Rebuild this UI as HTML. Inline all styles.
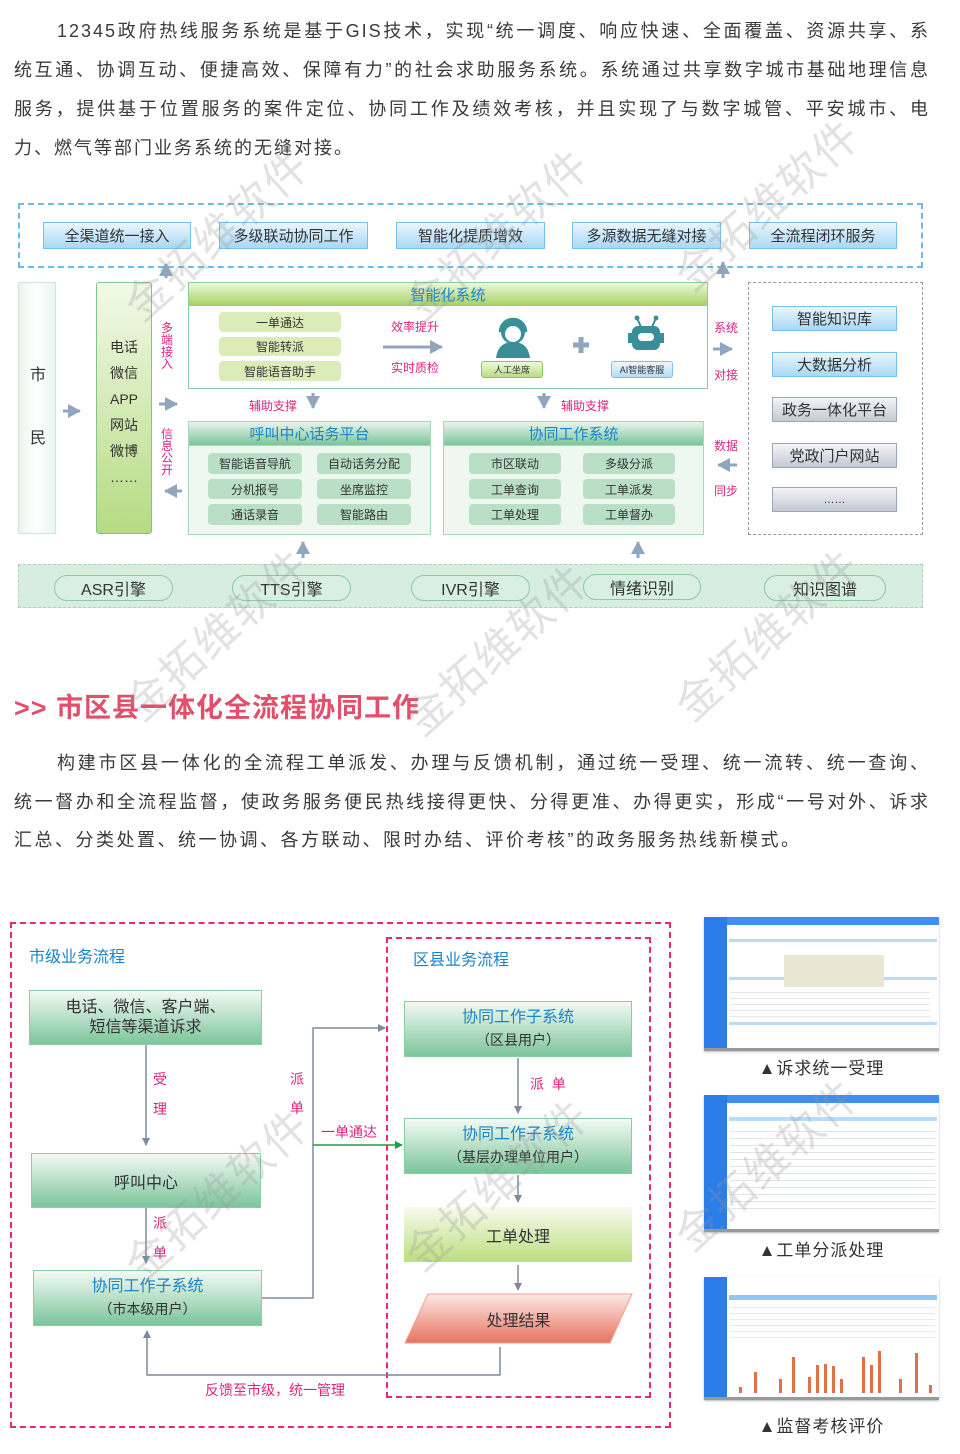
<!DOCTYPE html>
<html><head><meta charset="utf-8"><style>
*{margin:0;padding:0;box-sizing:border-box}
body{width:960px;height:1454px;position:relative;background:#fff;font-family:"Liberation Sans","Noto Sans CJK SC",sans-serif;color:#333;overflow:hidden}
.a{position:absolute}
.ln{position:absolute;left:14px;width:916px;font-size:18px;letter-spacing:2px;text-align:justify;text-align-last:justify;white-space:nowrap;line-height:24px;color:#3a3a3a}
.c{display:flex;align-items:center;justify-content:center;text-align:center}
.tb{background:linear-gradient(#eaf6fd,#a9d8f5);border:1.5px solid #77c0ea;font-size:15px;color:#333}
.gb{background:linear-gradient(#f3f4f6,#c4cad3);border:1.5px solid #9aa7b6;font-size:15px;color:#333}
.pl{background:#dcecb8;border-radius:4px;font-size:12px;color:#333}
.pg{background:#b9dfc6;border-radius:4px;font-size:12px;color:#333}
.mg{color:#e0237f;font-size:12px}
.vs{line-height:12px;text-align:center;width:14px}
.fb{background:linear-gradient(#f3faf4,#7cc59b);border:1.5px solid #8ccca3;font-size:16px;color:#333}
.bl{color:#1a85c8}
.wm{position:absolute;font-size:44px;color:rgba(150,150,150,.28);transform:rotate(-42deg);white-space:nowrap;letter-spacing:2px}
</style></head><body>

<div class="ln" style="top:19px;left:57px;width:873px">12345政府热线服务系统是基于GIS技术，实现“统一调度、响应快速、全面覆盖、资源共享、系</div>
<div class="ln" style="top:58px">统互通、协调互动、便捷高效、保障有力”的社会求助服务系统。系统通过共享数字城市基础地理信息</div>
<div class="ln" style="top:97px">服务，提供基于位置服务的案件定位、协同工作及绩效考核，并且实现了与数字城管、平安城市、电</div>
<div class="ln" style="top:136px;text-align-last:left;width:auto">力、燃气等部门业务系统的无缝对接。</div>

<div class="a" style="left:18px;top:203px;width:905px;height:65px;border:2px dashed #6bbbe8"></div>
<div class="a c tb" style="left:43px;top:222px;width:148px;height:27px">全渠道统一接入</div>
<div class="a c tb" style="left:219px;top:222px;width:149px;height:27px">多级联动协同工作</div>
<div class="a c tb" style="left:396px;top:222px;width:149px;height:27px">智能化提质增效</div>
<div class="a c tb" style="left:572px;top:222px;width:149px;height:27px">多源数据无缝对接</div>
<div class="a c tb" style="left:749px;top:222px;width:148px;height:27px">全流程闭环服务</div>

<div class="a" style="left:18px;top:282px;width:38px;height:252px;background:linear-gradient(90deg,#e9f5ee,#fff 50%,#e9f5ee);border:1px solid #cfe6d7"></div>
<div class="a" style="left:30px;top:361px;font-size:16px">市</div>
<div class="a" style="left:30px;top:424px;font-size:16px">民</div>
<div class="a" style="left:96px;top:282px;width:56px;height:252px;background:linear-gradient(#f2f9e8,#b6db82);border:1.5px solid #82c48d;border-radius:3px"></div>
<div class="a" style="left:96px;top:334px;width:56px;text-align:center;font-size:14px;line-height:26px">电话<br>微信<br>APP<br>网站<br>微博<br>……</div>
<div class="a mg vs" style="left:160px;top:322px">多<br>端<br>接<br>入</div>
<div class="a mg vs" style="left:160px;top:428px">信<br>息<br>公<br>开</div>

<div class="a" style="left:188px;top:282px;width:520px;height:107px;border:1.5px solid #8ccca3;background:#fff"></div>
<div class="a c" style="left:188px;top:282px;width:520px;height:24px;background:linear-gradient(#eef7d8,#a6d26a);border:1.5px solid #8ccca3;font-size:15px;color:#1a85c8">智能化系统</div>
<div class="a c pl" style="left:219px;top:312px;width:122px;height:20px">一单通达</div>
<div class="a c pl" style="left:219px;top:337px;width:122px;height:19px">智能转派</div>
<div class="a c pl" style="left:219px;top:361px;width:122px;height:20px">智能语音助手</div>
<div class="a mg" style="left:391px;top:318px">效率提升</div>
<div class="a mg" style="left:391px;top:359px">实时质检</div>
<div class="a c" style="left:481px;top:361px;width:62px;height:17px;background:linear-gradient(#f1f9dd,#b8dc86);border:1px solid #8cc46a;border-radius:3px;font-size:9px">人工坐席</div>
<div class="a c" style="left:611px;top:361px;width:62px;height:17px;background:linear-gradient(#eef7fd,#b4dcf5);border:1px solid #7ec2ea;border-radius:3px;font-size:9px">AI智能客服</div>

<div class="a mg" style="left:249px;top:397px">辅助支撑</div>
<div class="a mg" style="left:561px;top:397px">辅助支撑</div>

<div class="a" style="left:188px;top:421px;width:243px;height:114px;border:1.5px solid #a8d8b8;background:#eef7f0"></div>
<div class="a c" style="left:188px;top:421px;width:243px;height:25px;background:linear-gradient(#e8f5ec,#7cc49a);border:1.5px solid #a8d8b8;font-size:15px;color:#1a85c8">呼叫中心话务平台</div>
<div class="a c pg" style="left:208px;top:453px;width:94px;height:21px">智能语音导航</div>
<div class="a c pg" style="left:317px;top:453px;width:94px;height:21px">自动话务分配</div>
<div class="a c pg" style="left:208px;top:479px;width:94px;height:20px">分机报号</div>
<div class="a c pg" style="left:317px;top:479px;width:94px;height:20px">坐席监控</div>
<div class="a c pg" style="left:208px;top:504px;width:94px;height:21px">通话录音</div>
<div class="a c pg" style="left:317px;top:504px;width:94px;height:21px">智能路由</div>

<div class="a" style="left:443px;top:421px;width:261px;height:114px;border:1.5px solid #a8d8b8;background:#eef7f0"></div>
<div class="a c" style="left:443px;top:421px;width:261px;height:25px;background:linear-gradient(#e8f5ec,#7cc49a);border:1.5px solid #a8d8b8;font-size:15px;color:#1a85c8">协同工作系统</div>
<div class="a c pg" style="left:469px;top:453px;width:92px;height:21px">市区联动</div>
<div class="a c pg" style="left:583px;top:453px;width:92px;height:21px">多级分派</div>
<div class="a c pg" style="left:469px;top:479px;width:92px;height:20px">工单查询</div>
<div class="a c pg" style="left:583px;top:479px;width:92px;height:20px">工单派发</div>
<div class="a c pg" style="left:469px;top:504px;width:92px;height:21px">工单处理</div>
<div class="a c pg" style="left:583px;top:504px;width:92px;height:21px">工单督办</div>

<div class="a mg" style="left:714px;top:319px">系统</div>
<div class="a mg" style="left:714px;top:366px">对接</div>
<div class="a mg" style="left:714px;top:437px">数据</div>
<div class="a mg" style="left:714px;top:482px">同步</div>

<div class="a" style="left:748px;top:282px;width:175px;height:253px;border:1.5px dashed #8a9bb0"></div>
<div class="a c tb" style="left:772px;top:306px;width:125px;height:25px">智能知识库</div>
<div class="a c tb" style="left:772px;top:352px;width:125px;height:25px">大数据分析</div>
<div class="a c gb" style="left:772px;top:397px;width:125px;height:25px">政务一体化平台</div>
<div class="a c gb" style="left:772px;top:443px;width:125px;height:25px">党政门户网站</div>
<div class="a c gb" style="left:772px;top:487px;width:125px;height:25px;font-size:11px">……</div>

<div class="a" style="left:18px;top:564px;width:905px;height:44px;background:#d6ede0;border:1.5px dashed #a8d6ba"></div>
<div class="a c" style="left:54px;top:575px;width:119px;height:26px;border:1.5px solid #8ccaa2;border-radius:13px;background:#d9efe2;font-size:16px">ASR引擎</div>
<div class="a c" style="left:232px;top:575px;width:119px;height:26px;border:1.5px solid #8ccaa2;border-radius:13px;background:#d9efe2;font-size:16px">TTS引擎</div>
<div class="a c" style="left:411px;top:575px;width:119px;height:26px;border:1.5px solid #8ccaa2;border-radius:13px;background:#d9efe2;font-size:16px">IVR引擎</div>
<div class="a c" style="left:583px;top:574px;width:118px;height:26px;border:1.5px solid #8ccaa2;border-radius:13px;background:#d9efe2;font-size:16px">情绪识别</div>
<div class="a c" style="left:764px;top:575px;width:122px;height:26px;border:1.5px solid #8ccaa2;border-radius:13px;background:#d9efe2;font-size:16px">知识图谱</div>

<div class="a" style="left:14px;top:686px;font-size:27px;letter-spacing:1px;font-weight:bold;color:#e0506a;white-space:nowrap">&gt;&gt; 市区县一体化全流程协同工作</div>

<div class="ln" style="top:751px;left:57px;width:873px">构建市区县一体化的全流程工单派发、办理与反馈机制，通过统一受理、统一流转、统一查询、</div>
<div class="ln" style="top:790px">统一督办和全流程监督，使政务服务便民热线接得更快、分得更准、办得更实，形成“一号对外、诉求</div>
<div class="ln" style="top:828px;text-align-last:left;width:auto;letter-spacing:2.5px">汇总、分类处置、统一协调、各方联动、限时办结、评价考核”的政务服务热线新模式。</div>

<div class="a" style="left:10px;top:922px;width:661px;height:506px;border:2px dashed #e4277f"></div>
<div class="a" style="left:386px;top:937px;width:265px;height:461px;border:2px dashed #e4277f"></div>
<div class="a bl" style="left:29px;top:943px;font-size:16px">市级业务流程</div>
<div class="a bl" style="left:413px;top:946px;font-size:16px">区县业务流程</div>
<div class="a c fb" style="left:29px;top:990px;width:233px;height:55px;line-height:20px">电话、微信、客户端、<br>短信等渠道诉求</div>
<div class="a c fb" style="left:31px;top:1153px;width:230px;height:55px">呼叫中心</div>
<div class="a c fb" style="left:33px;top:1270px;width:229px;height:56px;line-height:22px;flex-direction:column"><span class="bl" style="font-size:16px">协同工作子系统</span><span style="font-size:14px">（市本级用户）</span></div>
<div class="a c fb" style="left:404px;top:1001px;width:228px;height:56px;line-height:22px;flex-direction:column"><span class="bl" style="font-size:16px">协同工作子系统</span><span style="font-size:14px">（区县用户）</span></div>
<div class="a c fb" style="left:404px;top:1118px;width:228px;height:56px;line-height:22px;flex-direction:column"><span class="bl" style="font-size:16px">协同工作子系统</span><span style="font-size:14px">（基层办理单位用户）</span></div>
<div class="a c" style="left:404px;top:1207px;width:228px;height:55px;background:linear-gradient(#f7fbee,#bcdf7e);font-size:16px">工单处理</div>
<svg class="a" style="left:0;top:0" width="960" height="1454">
<defs>
<marker id="m" markerWidth="8" markerHeight="8" refX="7" refY="4" orient="auto" markerUnits="userSpaceOnUse"><path d="M0,0 L8,4 L0,8z" fill="#7d8c9c"/></marker>
<marker id="mg" markerWidth="8" markerHeight="8" refX="7" refY="4" orient="auto" markerUnits="userSpaceOnUse"><path d="M0,0 L8,4 L0,8z" fill="#1f9a4a"/></marker>
<marker id="b" markerWidth="14" markerHeight="14" refX="12" refY="7" orient="auto" markerUnits="userSpaceOnUse"><path d="M0,0 L13,7 L0,14z" fill="#8fa6bd"/></marker>
<linearGradient id="pr" x1="0" y1="0" x2="0" y2="1"><stop offset="0" stop-color="#fde8e5"/><stop offset="1" stop-color="#e8735f"/></linearGradient>
</defs>
<polygon points="428,1294 632,1294 610,1343 405,1343" fill="url(#pr)" stroke="#f0a090"/>
<g stroke="#8fa6bd" stroke-width="3" fill="none">
<path d="M63,411 H80" marker-end="url(#b)"/>
<path d="M159,404 H177" marker-end="url(#b)"/>
<path d="M182,491 H165" marker-end="url(#b)"/>
<path d="M383,347 H442" marker-end="url(#b)"/>
<path d="M713,349 H732" marker-end="url(#b)"/>
<path d="M737,465 H718" marker-end="url(#b)"/>
<path d="M313,393 V408" marker-end="url(#b)"/>
<path d="M544,393 V408" marker-end="url(#b)"/>
<path d="M303,558 V542" marker-end="url(#b)"/>
<path d="M638,558 V542" marker-end="url(#b)"/>
<path d="M723,278 V262" marker-end="url(#b)"/>
<path d="M166,278 V264" marker-end="url(#b)"/>
</g>
<path d="M581,337 V353 M573,345 H589" stroke="#8fa6bd" stroke-width="5"/>
<g fill="#3a8e98">
<circle cx="513" cy="332" r="12"/>
<path d="M496,358 Q498,342 513,342 Q528,342 530,358z"/>
</g>
<circle cx="513" cy="334" r="8" fill="#fff"/>
<path d="M500,332 A13,13 0 0 1 526,332" stroke="#3a8e98" stroke-width="2.5" fill="none"/>
<g fill="#3a8e98">
<rect x="632" y="326" width="28" height="24" rx="6"/>
<rect x="628" y="333" width="4" height="10"/><rect x="660" y="333" width="4" height="10"/>
<circle cx="637" cy="318" r="2.5"/><circle cx="656" cy="318" r="2.5"/>
</g>
<path d="M637,318 L641,327 M656,318 L652,327" stroke="#3a8e98" stroke-width="2"/>
<rect x="638" y="333" width="16" height="8" rx="4" fill="#fff"/>
<g stroke="#7d8c9c" stroke-width="1.5" fill="none">
<path d="M146,1045 V1145" marker-end="url(#m)"/>
<path d="M146,1208 V1263" marker-end="url(#m)"/>
<path d="M262,1298 H313 V1028 H385" marker-end="url(#m)"/>
<path d="M518,1058 V1113" marker-end="url(#m)"/>
<path d="M518,1175 V1202" marker-end="url(#m)"/>
<path d="M518,1265 V1290" marker-end="url(#m)"/>
<path d="M500,1347 V1375 H147 V1331" marker-end="url(#m)"/>
</g>
<path d="M313,1145 H402" stroke="#1f9a4a" stroke-width="1.5" marker-end="url(#mg)"/>
</svg>
<div class="a c" style="left:405px;top:1294px;width:227px;height:49px;font-size:16px">处理结果</div>
<div class="a mg" style="left:153px;top:1069px;font-size:14px">受</div>
<div class="a mg" style="left:153px;top:1099px;font-size:14px">理</div>
<div class="a mg" style="left:153px;top:1213px;font-size:14px">派</div>
<div class="a mg" style="left:153px;top:1243px;font-size:14px">单</div>
<div class="a mg" style="left:290px;top:1069px;font-size:14px">派</div>
<div class="a mg" style="left:290px;top:1098px;font-size:14px">单</div>
<div class="a mg" style="left:321px;top:1122px;font-size:14px">一单通达</div>
<div class="a mg" style="left:530px;top:1074px;font-size:14px">派&nbsp;&nbsp;单</div>
<div class="a mg" style="left:205px;top:1380px;font-size:14px">反馈至市级，统一管理</div>

<div class="a" style="left:704px;top:917px;width:235px;height:134px;background:#fff;border-bottom:3px solid #999;box-shadow:0 1px 2px #bbb">
 <div class="a" style="left:0;top:0;width:235px;height:8px;background:#3e8ff0"></div>
 <div class="a" style="left:0;top:0;width:23px;height:131px;background:#2b7de9"></div>
 <div class="a" style="left:25px;top:22px;width:208px;height:3px;background:#b8dcf8"></div>
 <div class="a" style="left:25px;top:60px;width:208px;height:3px;background:#b8dcf8"></div>
 <div class="a" style="left:25px;top:105px;width:208px;height:3px;background:#b8dcf8"></div>
 <div class="a" style="left:80px;top:38px;width:100px;height:55px;background:#e9e6d4"></div>
 <div class="a" style="left:26px;top:70px;width:200px;height:30px;background:repeating-linear-gradient(#fff 0 5px,#e4e8ee 5px 6px)"></div>
</div>
<div class="a" style="left:704px;top:1095px;width:235px;height:137px;background:#fff;border-bottom:3px solid #999;box-shadow:0 1px 2px #bbb">
 <div class="a" style="left:0;top:0;width:235px;height:8px;background:#3e8ff0"></div>
 <div class="a" style="left:0;top:0;width:23px;height:134px;background:#2b7de9"></div>
 <div class="a" style="left:25px;top:22px;width:208px;height:4px;background:#b8dcf8"></div>
 <div class="a" style="left:26px;top:30px;width:205px;height:90px;background:repeating-linear-gradient(#fff 0 6px,#dfe4ea 6px 7px)"></div>
</div>
<div class="a" style="left:704px;top:1277px;width:235px;height:123px;background:#fff;border-bottom:3px solid #999;box-shadow:0 1px 2px #bbb">
 <div class="a" style="left:0;top:0;width:23px;height:120px;background:#2b7de9"></div>
 <div class="a" style="left:25px;top:18px;width:208px;height:5px;background:#8ec8f4"></div>
 <div class="a" style="left:26px;top:25px;width:205px;height:40px;background:repeating-linear-gradient(#fff 0 5px,#e6eaef 5px 6px)"></div>
 <svg class="a" style="left:30px;top:70px" width="200" height="48"><g fill="#e0704a">
 <rect x="5" y="40" width="3" height="6"/><rect x="20" y="25" width="3" height="21"/><rect x="45" y="32" width="3" height="14"/><rect x="58" y="10" width="3" height="36"/><rect x="74" y="30" width="3" height="16"/><rect x="82" y="18" width="3" height="28"/><rect x="90" y="17" width="3" height="29"/><rect x="98" y="19" width="3" height="27"/><rect x="106" y="32" width="3" height="14"/><rect x="128" y="10" width="3" height="36"/><rect x="136" y="18" width="3" height="28"/><rect x="144" y="4" width="3" height="42"/><rect x="165" y="32" width="3" height="14"/><rect x="181" y="6" width="3" height="40"/><rect x="195" y="38" width="3" height="8"/></g></svg>
</div>
<div class="a" style="left:704px;top:1054px;width:235px;text-align:center;font-size:17px;letter-spacing:1px">▲诉求统一受理</div>
<div class="a" style="left:704px;top:1236px;width:235px;text-align:center;font-size:17px;letter-spacing:1px">▲工单分派处理</div>
<div class="a" style="left:704px;top:1412px;width:235px;text-align:center;font-size:17px;letter-spacing:1px">▲监督考核评价</div>

<div class="wm" style="left:100px;top:200px">金拓维软件</div>
<div class="wm" style="left:380px;top:200px">金拓维软件</div>
<div class="wm" style="left:650px;top:170px">金拓维软件</div>
<div class="wm" style="left:100px;top:600px">金拓维软件</div>
<div class="wm" style="left:380px;top:615px">金拓维软件</div>
<div class="wm" style="left:650px;top:600px">金拓维软件</div>
<div class="wm" style="left:100px;top:1160px">金拓维软件</div>
<div class="wm" style="left:380px;top:1150px">金拓维软件</div>
<div class="wm" style="left:650px;top:1130px">金拓维软件</div>
</body></html>
